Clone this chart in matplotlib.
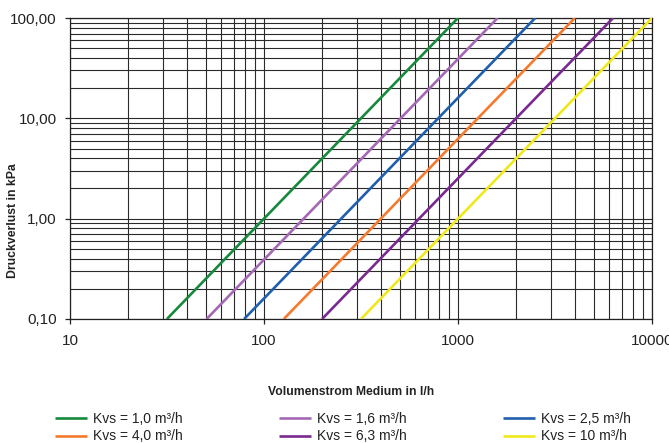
import matplotlib
matplotlib.use("Agg")
import matplotlib.pyplot as plt
from matplotlib.ticker import LogLocator, FixedLocator, NullFormatter

plt.rcParams['font.family'] = ['Liberation Sans', 'DejaVu Sans']

labels = ["Kvs = 1,0 m³/h", "Kvs = 1,6 m³/h", "Kvs = 2,5 m³/h",
          "Kvs = 4,0 m³/h", "Kvs = 6,3 m³/h", "Kvs = 10 m³/h"]
colors = ["#17893d", "#a468b4", "#1f5fae", "#f47a2e", "#7a2990", "#f0e81a"]
# endpoints: flow (l/h) at 0.1 kPa and at 100 kPa
flow_start = [31.6, 50.6, 79.0, 126.5, 199.2, 316.2]
flow_end = [1000, 1600, 2500, 4000, 6300, 10000]
dp_start = [0.1, 0.1, 0.1, 0.1, 0.1, 0.1]
dp_end = [100, 100, 100, 100, 100, 100]

y_ticks = [0.1, 1, 10, 100]
y_ticklabels = ["0,10", "1,00", "10,00", "100,00"]
x_ticks = [10, 100, 1000, 10000]
x_ticklabels = ["10", "100", "1000", "10000"]

W, H = 669, 443
fig = plt.figure(figsize=(W/100, H/100), dpi=100)
ax = fig.add_axes([70/W, 1-319/H, 582/W, 301/H])
ax.set_xscale('log')
ax.set_yscale('log')
ax.set_xlim(10, 10000)
ax.set_ylim(0.1, 100)

lines = []
for xs, xe, ys, ye, c, l in zip(flow_start, flow_end, dp_start, dp_end, colors, labels):
    ln, = ax.plot([xs, xe], [ys, ye], color=c, lw=1.9, label=l, zorder=3, solid_capstyle='butt')
    lines.append(ln)

ax.xaxis.set_major_locator(FixedLocator(x_ticks))
ax.set_xticklabels(x_ticklabels)
ax.yaxis.set_major_locator(FixedLocator(y_ticks))
ax.set_yticklabels(y_ticklabels)
ax.xaxis.set_minor_locator(LogLocator(base=10, subs=range(2, 10)))
ax.yaxis.set_minor_locator(LogLocator(base=10, subs=range(2, 10)))
ax.xaxis.set_minor_formatter(NullFormatter())
ax.yaxis.set_minor_formatter(NullFormatter())
ax.tick_params(which='minor', length=0)
ax.tick_params(which='major', length=3.5, width=0.9, color='#222222', labelsize=11, labelcolor='#222222')
ax.tick_params(axis='y', pad=6)
ax.tick_params(axis='x', pad=7)
ax.grid(True, which='both', color='#2a2a2a', lw=0.8)
ax.set_axisbelow(True)
for s in ax.spines.values():
    s.set_color('#222222')
    s.set_linewidth(0.9)

fig.text(13/W, 1-221/H, "Druckverlust in kPa", fontsize=8.8, fontweight='bold',
         rotation=90, ha='center', va='center', color='#222222')
fig.text(351/W, 1-392/H, "Volumenstrom Medium in l/h", fontsize=8.7, fontweight='bold',
         ha='center', va='center', color='#222222')

order = [0, 3, 1, 4, 2, 5]
leg = fig.legend([lines[i] for i in order], [labels[i] for i in order], ncol=3,
                 loc='upper left', bbox_to_anchor=(55/W, 1-412/H), frameon=False,
                 borderpad=0, borderaxespad=0,
                 fontsize=10, handlelength=2.3, columnspacing=6.9, labelspacing=0.25,
                 handletextpad=0.45)
for t in leg.get_texts():
    t.set_color('#222222')

fig.savefig("out.png", dpi=100)
